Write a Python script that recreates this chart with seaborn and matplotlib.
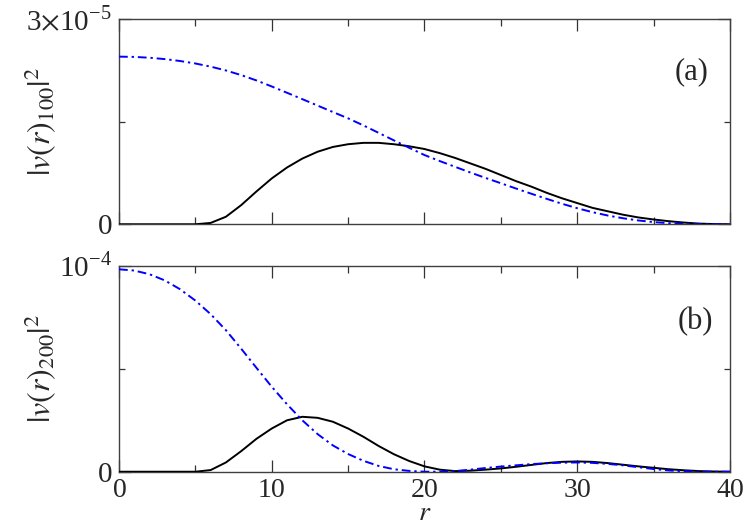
import numpy as np
import pandas as pd
import matplotlib
matplotlib.use("Agg")
import matplotlib.pyplot as plt
from matplotlib.ticker import MultipleLocator, FixedLocator
import seaborn as sns

# ---- data ----
r = list(range(0, 41))

# panel (a): |v(r)_100|^2, units of 1e-5
a_blue = [2.450, 2.446, 2.434, 2.414, 2.386, 2.350, 2.304, 2.248, 2.180, 2.102,
          2.014, 1.922, 1.829, 1.735, 1.641, 1.548, 1.445, 1.336, 1.226, 1.118,
          1.012, 0.924, 0.840, 0.757, 0.677, 0.600, 0.522, 0.446, 0.372, 0.300,
          0.235, 0.177, 0.128, 0.088, 0.056, 0.032, 0.016, 0.006, 0.001, 0.0, 0.0]
a_black = [0.0, 0.0, 0.0, 0.0, 0.0, 0.0, 0.02, 0.11, 0.28, 0.48,
           0.67, 0.83, 0.96, 1.06, 1.13, 1.17, 1.19, 1.19, 1.17, 1.14,
           1.10, 1.04, 0.97, 0.89, 0.81, 0.72, 0.63, 0.55, 0.46, 0.38,
           0.31, 0.24, 0.19, 0.14, 0.10, 0.07, 0.045, 0.025, 0.01, 0.003, 0.0]

# panel (b): |v(r)_200|^2, units of 1e-4
b_blue = [0.984, 0.978, 0.960, 0.930, 0.887, 0.832, 0.766, 0.688, 0.598, 0.505,
          0.413, 0.328, 0.250, 0.183, 0.128, 0.086, 0.053, 0.028, 0.012, 0.004,
          0.0, 0.0, 0.003, 0.01, 0.018, 0.025, 0.031, 0.037, 0.041, 0.044,
          0.045, 0.043, 0.038, 0.031, 0.022, 0.013, 0.006, 0.002, 0.0, 0.0, 0.0]
b_black = [0.0, 0.0, 0.0, 0.0, 0.0, 0.0, 0.008, 0.045, 0.10, 0.16,
           0.21, 0.25, 0.267, 0.262, 0.243, 0.21, 0.17, 0.125, 0.085, 0.052,
           0.026, 0.01, 0.003, 0.005, 0.01, 0.016, 0.024, 0.033, 0.042, 0.048,
           0.05, 0.048, 0.042, 0.034, 0.026, 0.019, 0.012, 0.007, 0.003, 0.001, 0.0]

scale_a = 1e-5
scale_b = 1e-4
x_ticks = [0, 10, 20, 30, 40]
x_ticklabels = ["0", "10", "20", "30", "40"]
a_yticklabels = ["0", r"3${\times}$10$^{\mathregular{-5}}$"]
b_yticklabels = ["0", r"10$^{\mathregular{-4}}$"]
panel_labels = ["(a)", "(b)"]
ylabels = [r"$|v(r)_{100}|^2$", r"$|v(r)_{200}|^2$"]

# ---- style ----
sns.set_style("ticks")
plt.rcParams["font.family"] = ["Liberation Serif", "STIXGeneral", "DejaVu Serif"]
plt.rcParams["mathtext.fontset"] = "stix"
plt.rcParams["mathtext.default"] = "it"


def tight(s):
    # mathtext wrapper: same regular font, tight vertical box
    return s if "$" in s else r"$\mathregular{%s}$" % s


fig = plt.figure(figsize=(7.47, 5.25), dpi=100)
ax_a = fig.add_axes([0.1593, 0.5728, 0.8179, 0.3910])
ax_b = fig.add_axes([0.1593, 0.1015, 0.8179, 0.3918])

df_a = pd.DataFrame({"r": r, "blue": np.array(a_blue) * scale_a,
                     "black": np.array(a_black) * scale_a})
df_b = pd.DataFrame({"r": r, "blue": np.array(b_blue) * scale_b,
                     "black": np.array(b_black) * scale_b})

dashdot = (0, (4.5, 2.0, 1.2, 2.0))
specs = [(ax_a, df_a, 3e-5, a_yticklabels),
         (ax_b, df_b, 1e-4, b_yticklabels)]
for i, (ax, df, top, ylabs) in enumerate(specs):
    sns.lineplot(data=df, x="r", y="black", ax=ax, color="black",
                 linewidth=1.4, zorder=3)
    sns.lineplot(data=df, x="r", y="blue", ax=ax, color="#0000ff",
                 linewidth=1.4, linestyle=dashdot, zorder=4)
    ax.set_xlim(0, 40)
    ax.set_ylim(0, top)
    ax.xaxis.set_major_locator(FixedLocator(x_ticks))
    ax.xaxis.set_minor_locator(MultipleLocator(5))
    ax.yaxis.set_major_locator(FixedLocator([0, top]))
    ax.yaxis.set_minor_locator(FixedLocator([top / 2]))
    ax.set_yticklabels([tight(s) for s in ylabs], fontsize=21)
    ax.set_xlabel("")
    if i == 1:
        ax.set_xticklabels([tight(s) for s in x_ticklabels], fontsize=20)
    else:
        ax.set_xticklabels([])
    ax.tick_params(axis="both", which="both", direction="in",
                   top=True, right=True, width=0.9, color="0.2")
    ax.tick_params(axis="x", which="major", length=8.5, pad=4.5)
    ax.tick_params(axis="x", which="minor", length=5)
    ax.tick_params(axis="y", which="major", length=8.5, pad=5)
    ax.tick_params(axis="y", which="minor", length=4.5)
    for sp in ax.spines.values():
        sp.set_linewidth(1.0)
        sp.set_color("0.25")
    ax.set_ylabel(ylabels[i], fontsize=23)
    ax.yaxis.set_label_coords(-0.099, 0.5)
    ax.text(0.937 if i == 0 else 0.943, 0.742 if i == 0 else 0.728,
            panel_labels[i], transform=ax.transAxes, fontsize=22,
            ha="center", va="center")

# x axis title, placed just under the tick labels like the reference
fig.text(ax_b.get_position().x0 + ax_b.get_position().width / 2,
         1 - 520.5 / 525, r"$r$", fontsize=20, ha="center", va="baseline")

fig.savefig("out.png", dpi=100)
